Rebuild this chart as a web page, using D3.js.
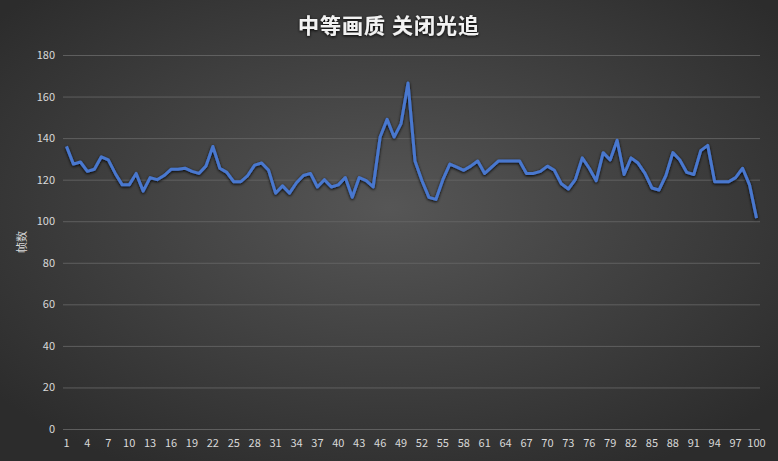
<!DOCTYPE html>
<html>
<head>
<meta charset="utf-8">
<script src="https://cdn.jsdelivr.net/npm/d3@7"></script>
<style>
html, body { margin: 0; padding: 0; background: #2e2e2e; }
svg { display: block; }
text { font-family: "Noto Sans CJK SC", "Noto Sans", sans-serif; }
</style>
</head>
<body>
<script>
// 帧数 per sample
let frames = [
	136, 127.5, 128.5, 124, 125, 131, 129.5, 123, 117.5, 117.5,
	123, 114.5, 121, 120, 122, 125, 125, 125.5, 124, 123,
	126.5, 136, 125.5, 123.5, 119, 119, 122, 127, 128, 124.5,
	113.5, 117, 113.5, 118.5, 122, 123, 116.5, 120, 116.5, 117.5,
	121, 111.5, 121, 119.5, 116.5, 140.5, 149, 140.5, 147, 166.5,
	129, 119.5, 111.5, 110.5, 120, 127.5, 126, 124.5, 126.5, 129,
	123, 126, 129, 129, 129, 129, 123, 123, 124, 126.5,
	124.5, 118, 115.5, 120, 130.5, 125.5, 119.5, 133, 129.5, 139,
	122.5, 130.5, 128, 123, 116, 115, 122, 133, 129.5, 123.5,
	122.5, 134, 136.5, 119, 119, 119, 121, 125.5, 117.5, 101.5
]
let categories = frames.map((d, i) => i + 1)
let yTicks = [0, 20, 40, 60, 80, 100, 120, 140, 160, 180]
let xTickLabels = categories.filter(c => (c - 1) % 3 === 0 || c === 100)
let title = '中等画质 关闭光追'
let yTitle = '帧数'

let width = 778, height = 461
let margin = { left: 63, right: 18, top: 55, bottom: 32 }

let svg = d3.select('body').append('svg')
	.attr('width', width)
	.attr('height', height)

let defs = svg.append('defs')
let bg = defs.append('radialGradient')
	.attr('id', 'bg')
	.attr('cx', '50%').attr('cy', '45%').attr('r', '65%')
bg.append('stop').attr('offset', '0%').attr('stop-color', '#565656')
bg.append('stop').attr('offset', '100%').attr('stop-color', '#2c2c2c')

let glow = defs.append('filter').attr('id', 'glow')
	.attr('x', '-5%').attr('y', '-20%').attr('width', '110%').attr('height', '140%')
glow.append('feGaussianBlur').attr('in', 'SourceAlpha').attr('stdDeviation', 1.5).attr('result', 'b')
glow.append('feOffset').attr('in', 'b').attr('dy', 1).attr('result', 'o')
let fm = glow.append('feMerge')
fm.append('feMergeNode').attr('in', 'o')
fm.append('feMergeNode').attr('in', 'SourceGraphic')

svg.append('rect')
	.attr('width', width)
	.attr('height', height)
	.attr('fill', 'url(#bg)')

let x = d3.scaleBand()
	.domain(categories)
	.range([margin.left, width - margin.right])
let y = d3.scaleLinear()
	.domain([0, 180])
	.range([height - margin.bottom, margin.top])

// gridlines
svg.append('g')
	.selectAll('line')
	.data(yTicks)
	.join('line')
	.attr('x1', margin.left)
	.attr('x2', width - margin.right)
	.attr('y1', d => y(d) + 0.5)
	.attr('y2', d => y(d) + 0.5)
	.attr('stroke', '#666')
	.attr('stroke-opacity', 0.85)
	.attr('stroke-width', 1)

let yAxis = svg.append('g')
	.attr('transform', `translate(${margin.left},0)`)
	.call(d3.axisLeft(y).tickValues(yTicks).tickSize(0).tickPadding(8))
yAxis.select('.domain').remove()
yAxis.selectAll('text')
	.attr('fill', '#d9d9d9')
	.attr('font-size', 11)
	.attr('font-family', '"Liberation Sans", Arial, sans-serif')

let xAxis = svg.append('g')
	.attr('transform', `translate(0,${height - margin.bottom})`)
	.call(d3.axisBottom(x).tickValues(xTickLabels).tickSize(0).tickPadding(10))
xAxis.select('.domain').remove()
xAxis.selectAll('text')
	.attr('fill', '#d9d9d9')
	.attr('font-size', 11)
	.attr('font-family', '"Liberation Sans", Arial, sans-serif')

let line = d3.line()
	.x((d, i) => x(categories[i]) + x.bandwidth() / 2)
	.y(d => y(d))

svg.append('path')
	.datum(frames)
	.attr('d', line)
	.attr('fill', 'none')
	.attr('stroke', '#4a78cf')
	.attr('stroke-width', 3)
	.attr('stroke-linejoin', 'round')
	.attr('filter', 'url(#glow)')

svg.append('text')
	.attr('x', width / 2)
	.attr('y', 33)
	.attr('text-anchor', 'middle')
	.attr('fill', '#f2f2f2')
	.attr('font-size', 21)
	.attr('font-weight', 'bold')
	.attr('letter-spacing', 1)
	.attr('filter', 'url(#glow)')
	.text(title)

svg.append('text')
	.attr('transform', `translate(26,${(margin.top + height - margin.bottom) / 2}) rotate(-90)`)
	.attr('text-anchor', 'middle')
	.attr('fill', '#d9d9d9')
	.attr('font-size', 11)
	.text(yTitle)
</script>
</body>
</html>
